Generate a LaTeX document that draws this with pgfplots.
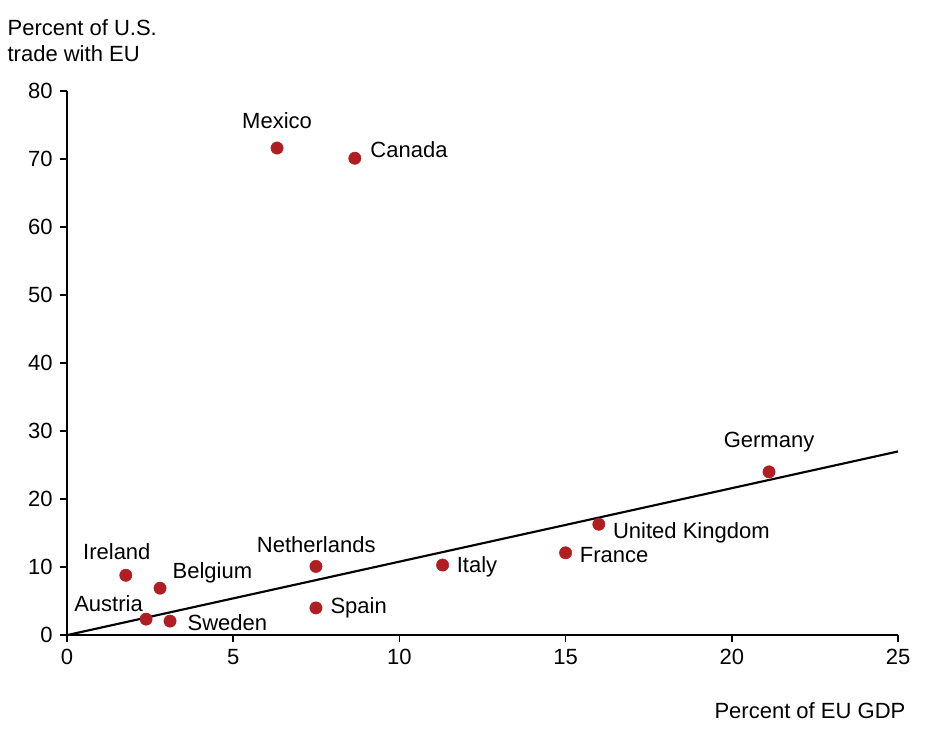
\documentclass[border=0pt]{standalone}
\usepackage{pgfplots}
\pgfplotsset{compat=1.18}
\usepackage{fontspec}
\setmainfont{Liberation Sans}
\definecolor{dotred}{HTML}{B01E23}
\begin{document}
\fontsize{16.5}{19}\selectfont
\begin{tikzpicture}
\begin{axis}[
  scale only axis, width=623pt, height=408pt,
  xmin=0, xmax=25, ymin=0, ymax=80,
  axis lines=left, axis line style={-, line width=1.6pt},
  xtick={0,5,...,25}, ytick={0,10,...,80},
  tick align=outside, tick style={black, line width=1.2pt}, major tick length=5pt,
  tick label style={font=\fontsize{16.5}{19}\selectfont},
  /pgf/number format/assume math mode=true,
  clip=false,
]
\path (rel axis cs:-0.0806,-0.189) rectangle (rel axis cs:1.0349,1.167);
\addplot[black, line width=1.6pt, no marks] coordinates {(0,0) (25,27)};
\addplot[only marks, mark=*, mark size=4.6pt, dotred, mark options={draw=dotred}] coordinates {
(6.32,71.6) (8.66,70.1) (21.12,24.0) (16.0,16.3) (15.0,12.1) (11.3,10.3)
(7.49,10.1) (7.49,4.0) (1.77,8.8) (2.80,6.9) (2.38,2.35) (3.10,2.06)};
\node[above] at (axis cs:6.32,73.3) {Mexico};
\node[right] at (axis cs:8.9,71.3) {Canada};
\node[above] at (axis cs:21.12,25.8) {Germany};
\node[right] at (axis cs:16.2,15.0) {United Kingdom};
\node[right] at (axis cs:15.2,11.8) {France};
\node[right] at (axis cs:11.5,10.1) {Italy};
\node[above] at (axis cs:7.5,11.0) {Netherlands};
\node[right] at (axis cs:7.7,4.0) {Spain};
\node[above] at (axis cs:1.5,10.0) {Ireland};
\node[right] at (axis cs:2.95,9.1) {Belgium};
\node[above] at (axis cs:1.25,2.3) {Austria};
\node[right] at (axis cs:3.4,1.8) {Sweden};
\node[anchor=north east] at (rel axis cs:1.018,-0.11) {Percent of EU GDP};
\node[anchor=south west, align=left] at (rel axis cs:-0.0806,1.04) {Percent of U.S.\\trade with EU};
\end{axis}
\end{tikzpicture}
\end{document}
